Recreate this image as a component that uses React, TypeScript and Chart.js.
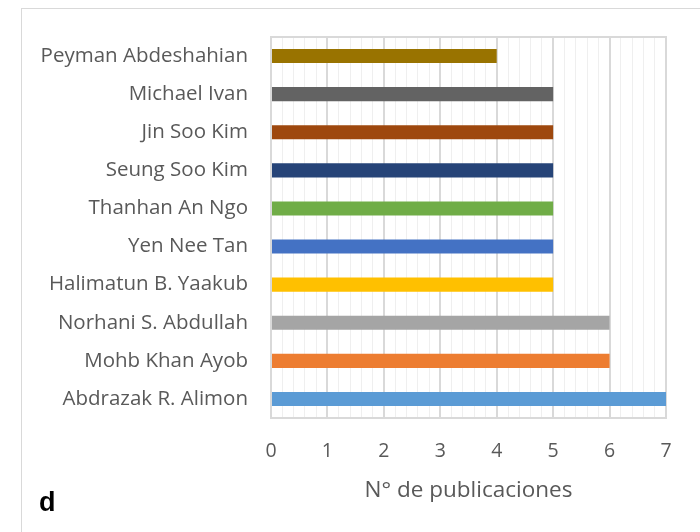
import React, { useEffect, useRef } from "react";
import { Chart, registerables } from "chart.js";

Chart.register(...registerables);

const authors = [
  "Peyman Abdeshahian",
  "Michael Ivan",
  "Jin Soo Kim",
  "Seung Soo Kim",
  "Thanhan An Ngo",
  "Yen Nee Tan",
  "Halimatun B. Yaakub",
  "Norhani S. Abdullah",
  "Mohb Khan Ayob",
  "Abdrazak R. Alimon",
];
const publications = [4, 5, 5, 5, 5, 5, 5, 6, 6, 7];
const barColors = [
  "#997300",
  "#636363",
  "#9E480E",
  "#264478",
  "#70AD47",
  "#4472C4",
  "#FFC000",
  "#A5A5A5",
  "#ED7D31",
  "#5B9BD5",
];
const xTitle = "N° de publicaciones";
const panelLabel = "d";

const decorPlugin = {
  id: "decor",
  beforeDraw(chart: any) {
    const ctx = chart.ctx;
    ctx.save();
    ctx.fillStyle = "#ffffff";
    ctx.fillRect(0, 0, chart.width, chart.height);
    ctx.strokeStyle = "#d9d9d9";
    ctx.lineWidth = 1;
    ctx.strokeRect(21.5, 8.5, 720, 600);
    ctx.restore();
  },
  beforeDatasetsDraw(chart: any) {
    const { ctx, chartArea } = chart;
    ctx.save();
    ctx.strokeStyle = "#d9d9d9";
    ctx.lineWidth = 2;
    ctx.strokeRect(
      chartArea.left,
      chartArea.top,
      chartArea.right - chartArea.left,
      chartArea.bottom - chartArea.top
    );
    ctx.restore();
  },
  afterDraw(chart: any) {
    const ctx = chart.ctx;
    ctx.save();
    ctx.fillStyle = "#000000";
    ctx.font = "bold 27px 'Liberation Sans', Arial, sans-serif";
    ctx.textBaseline = "alphabetic";
    ctx.textAlign = "left";
    ctx.fillText(panelLabel, 39, 511);
    ctx.restore();
  },
};

export default function App() {
  const ref = useRef<HTMLCanvasElement | null>(null);
  useEffect(() => {
    document.body.style.margin = "0";
    const isMajor = (v: number) => Math.abs(v - Math.round(v)) < 1e-6;
    const chart = new Chart(ref.current as HTMLCanvasElement, {
      type: "bar",
      data: {
        labels: authors,
        datasets: [
          {
            data: publications,
            backgroundColor: barColors,
            barPercentage: 0.37,
            categoryPercentage: 1,
          },
        ],
      },
      options: {
        indexAxis: "y",
        animation: false,
        responsive: false,
        layout: { padding: { top: 37, right: 34, left: 0, bottom: 0 } },
        plugins: { legend: { display: false }, tooltip: { enabled: false } },
        scales: {
          x: {
            min: 0,
            max: 7,
            ticks: {
              stepSize: 0.2,
              autoSkip: false,
              maxRotation: 0,
              color: "#595959",
              font: { family: "'Open Sans'", size: 19.5 },
              padding: 22,
              callback: (v: any) => (isMajor(Number(v)) ? String(Math.round(Number(v))) : ""),
            },
            grid: {
              drawTicks: false,
              color: (c: any) => (isMajor(c.tick?.value ?? 0) ? "#d9d9d9" : "#efefef"),
              lineWidth: (c: any) => (isMajor(c.tick?.value ?? 0) ? 2 : 1),
            },
            border: { display: false },
            title: {
              display: true,
              text: xTitle,
              color: "#595959",
              font: { family: "'Open Sans'", size: 22.5 },
              padding: { top: 0, bottom: 28 },
            },
            afterFit: (scale: any) => {
              scale.height = 114;
            },
          },
          y: {
            ticks: {
              color: "#595959",
              font: { family: "'Open Sans'", size: 20.5 },
              padding: 23,
            },
            grid: { display: false, drawTicks: false },
            border: { display: false },
            afterFit: (scale: any) => {
              scale.width = 271;
            },
          },
        },
      },
      plugins: [decorPlugin],
    });
    return () => chart.destroy();
  }, []);
  return (
    <div style={{ width: 700, height: 532 }}>
      <canvas ref={ref} width={700} height={532} style={{ display: "block" }} />
    </div>
  );
}
